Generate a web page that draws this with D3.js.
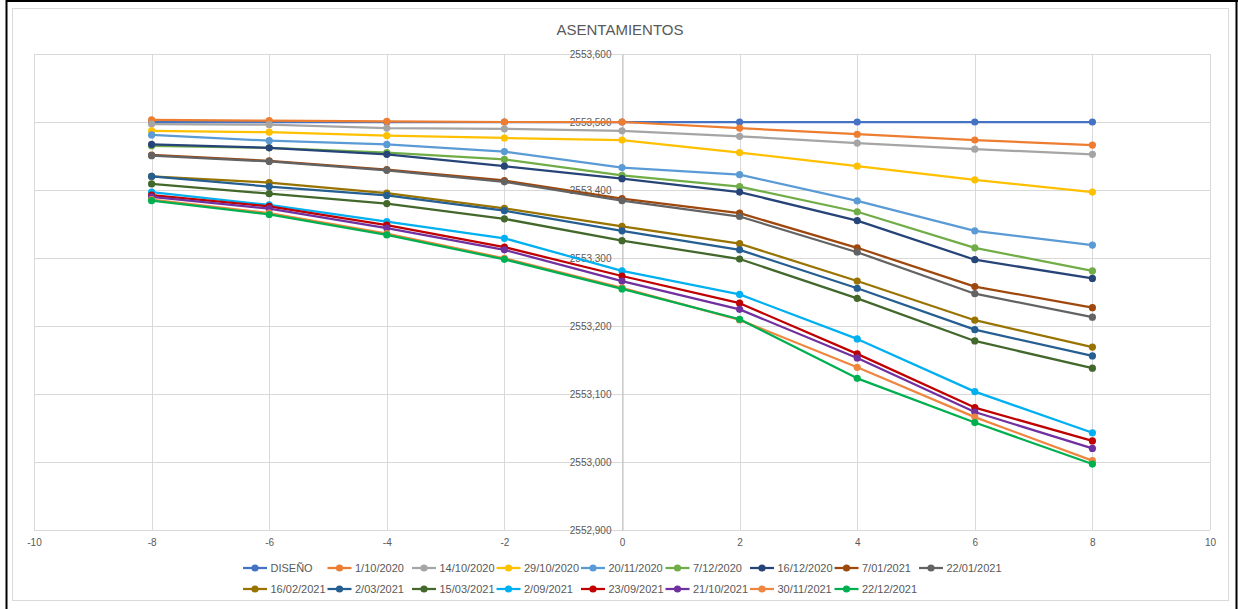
<!DOCTYPE html>
<html>
<head>
<meta charset="utf-8">
<script src="https://cdn.jsdelivr.net/npm/d3@7"></script>
<style>
  html, body { margin: 0; padding: 0; background: #fff; }
  svg { display: block; font-family: "Liberation Sans", Arial, sans-serif; }
</style>
</head>
<body>
<svg id="chart" width="1238" height="609"></svg>
<script>
// ---- Data ----
const stations = [-8, -6, -4, -2, 0, 2, 4, 6, 8];
const xTicks = [-10, -8, -6, -4, -2, 0, 2, 4, 6, 8, 10];
const yTicks = [2552.9, 2553.0, 2553.1, 2553.2, 2553.3, 2553.4, 2553.5, 2553.6];
const seriesNames = ["DISEÑO", "1/10/2020", "14/10/2020", "29/10/2020", "20/11/2020", "7/12/2020", "16/12/2020", "7/01/2021", "22/01/2021",
  "16/02/2021", "2/03/2021", "15/03/2021", "2/09/2021", "23/09/2021", "21/10/2021", "30/11/2021", "22/12/2021"];
const seriesColors = ["#4472C4", "#ED7D31", "#A5A5A5", "#FFC000", "#5B9BD5", "#70AD47", "#264478", "#9E480E", "#636363",
  "#997300", "#255E91", "#43682B", "#00B0F0", "#C00000", "#7030A0", "#EE8640", "#00B050"];

const diseno   = [2553.500, 2553.500, 2553.500, 2553.500, 2553.500, 2553.500, 2553.500, 2553.500, 2553.500];
const s01_10_20 = [2553.503, 2553.502, 2553.501, 2553.500, 2553.500, 2553.491, 2553.482, 2553.4735, 2553.466];
const s14_10_20 = [2553.497, 2553.496, 2553.491, 2553.490, 2553.487, 2553.479, 2553.469, 2553.460, 2553.4525];
const s29_10_20 = [2553.487, 2553.485, 2553.480, 2553.4765, 2553.4735, 2553.455, 2553.435, 2553.415, 2553.397];
const s20_11_20 = [2553.481, 2553.4725, 2553.467, 2553.4565, 2553.433, 2553.4225, 2553.384, 2553.340, 2553.319];
const s07_12_20 = [2553.465, 2553.462, 2553.455, 2553.445, 2553.4215, 2553.405, 2553.368, 2553.315, 2553.281];
const s16_12_20 = [2553.467, 2553.462, 2553.4525, 2553.435, 2553.4167, 2553.397, 2553.355, 2553.2975, 2553.270];
const s07_01_21 = [2553.4515, 2553.443, 2553.430, 2553.414, 2553.3873, 2553.366, 2553.315, 2553.258, 2553.227];
const s22_01_21 = [2553.4505, 2553.442, 2553.429, 2553.412, 2553.3843, 2553.361, 2553.3085, 2553.2475, 2553.213];
const s16_02_21 = [2553.420, 2553.411, 2553.3955, 2553.373, 2553.3466, 2553.321, 2553.2662, 2553.2085, 2553.169];
const s02_03_21 = [2553.420, 2553.405, 2553.392, 2553.3696, 2553.340, 2553.312, 2553.2555, 2553.1946, 2553.156];
const s15_03_21 = [2553.409, 2553.3946, 2553.380, 2553.3576, 2553.3255, 2553.2985, 2553.2407, 2553.178, 2553.138];
const s02_09_21 = [2553.397, 2553.378, 2553.3535, 2553.329, 2553.281, 2553.2465, 2553.181, 2553.1035, 2553.043];
const s23_09_21 = [2553.3926, 2553.376, 2553.3485, 2553.316, 2553.2735, 2553.2335, 2553.159, 2553.080, 2553.031];
const s21_10_21 = [2553.390, 2553.3725, 2553.344, 2553.312, 2553.266, 2553.2245, 2553.153, 2553.0735, 2553.020];
const s30_11_21 = [2553.386, 2553.366, 2553.336, 2553.2995, 2553.256, 2553.209, 2553.1393, 2553.066, 2553.002];
const s22_12_21 = [2553.3843, 2553.364, 2553.334, 2553.298, 2553.2545, 2553.2099, 2553.123, 2553.058, 2552.997];

const seriesValues = [diseno, s01_10_20, s14_10_20, s29_10_20, s20_11_20, s07_12_20, s16_12_20, s07_01_21, s22_01_21,
  s16_02_21, s02_03_21, s15_03_21, s02_09_21, s23_09_21, s21_10_21, s30_11_21, s22_12_21];

const series = seriesNames.map((name, i) => ({
  name, color: seriesColors[i],
  points: stations.map((x, j) => ({ x, y: seriesValues[i][j] }))
}));

// ---- Layout ----
const svg = d3.select("#chart");
const W = 1238, H = 609;
const plot = { left: 34, right: 1210, top: 54, bottom: 530 };

// outer frames
svg.append("rect").attr("x", 0).attr("y", 0).attr("width", W).attr("height", H).attr("fill", "#fff");
svg.append("rect").attr("x", 12.5).attr("y", 8.5).attr("width", 1216).attr("height", 592)
  .attr("fill", "#fff").attr("stroke", "#D9D9D9").attr("stroke-width", 1);
svg.append("line").attr("x1", 6).attr("x2", 1238).attr("y1", 1).attr("y2", 1).attr("stroke", "#000").attr("stroke-width", 2);
svg.append("line").attr("x1", 6.5).attr("x2", 6.5).attr("y1", 0).attr("y2", H).attr("stroke", "#000").attr("stroke-width", 2);
svg.append("line").attr("x1", 1236.5).attr("x2", 1236.5).attr("y1", 0).attr("y2", H).attr("stroke", "#000").attr("stroke-width", 2);

const x = d3.scaleLinear().domain([-10, 10]).range([plot.left, plot.right]);
const y = d3.scaleLinear().domain([2552.9, 2553.6]).range([plot.bottom, plot.top]);

const locale = d3.formatLocale({ decimal: ",", thousands: ".", grouping: [3], currency: ["", ""], minus: "-" });
const fmtY = locale.format(".3f");
const fmtX = locale.format("d");

// gridlines
const grid = svg.append("g").attr("stroke", "#D9D9D9").attr("stroke-width", 1);
grid.selectAll("line.h").data(yTicks).join("line").attr("class", "h")
  .attr("x1", plot.left).attr("x2", plot.right)
  .attr("y1", d => Math.round(y(d)) + 0.5).attr("y2", d => Math.round(y(d)) + 0.5);
grid.selectAll("line.v").data(xTicks).join("line").attr("class", "v")
  .attr("y1", plot.top).attr("y2", plot.bottom)
  .attr("x1", d => Math.round(x(d)) + 0.5).attr("x2", d => Math.round(x(d)) + 0.5);

// y axis at x = 0
const yAxis = d3.axisLeft(y).tickValues(yTicks).tickFormat(fmtY).tickSize(0).tickPadding(11);
const gy = svg.append("g").attr("transform", `translate(${Math.round(x(0)) + 0.5},0)`).call(yAxis);
gy.select(".domain").attr("stroke", "#BFBFBF");
gy.selectAll("text").attr("fill", "#595959").style("font-size", "10px").style("font-family", "'Liberation Sans', Arial, sans-serif");

// x axis labels at bottom
const xAxis = d3.axisBottom(x).tickValues(xTicks).tickFormat(fmtX).tickSize(0).tickPadding(9);
const gx = svg.append("g").attr("transform", `translate(0,${plot.bottom})`).call(xAxis);
gx.select(".domain").remove();
gx.selectAll("text").attr("fill", "#595959").style("font-size", "10px").style("font-family", "'Liberation Sans', Arial, sans-serif");

// title
svg.append("text").attr("x", 620).attr("y", 35).attr("text-anchor", "middle")
  .attr("fill", "#595959").style("font-size", "15px").text("ASENTAMIENTOS");

// lines + markers
const line = d3.line().x(d => x(d.x)).y(d => y(d.y));
const gS = svg.append("g");
series.forEach(s => {
  const g = gS.append("g");
  g.append("path").datum(s.points).attr("d", line).attr("fill", "none")
    .attr("stroke", s.color).attr("stroke-width", 2.25).attr("stroke-linejoin", "round");
  g.selectAll("circle").data(s.points).join("circle")
    .attr("cx", d => x(d.x)).attr("cy", d => y(d.y)).attr("r", 3.6).attr("fill", s.color);
});

// legend: uniform column grid
const legendX0 = 243, legendColW = 84.5;
const legendRows = [
  { y: 568, idx: [0, 1, 2, 3, 4, 5, 6, 7, 8] },
  { y: 589, idx: [9, 10, 11, 12, 13, 14, 15, 16] }
];
const lg = svg.append("g");
legendRows.forEach(row => {
  row.idx.forEach((si, k) => {
    const s = series[si];
    const x0 = legendX0 + k * legendColW;
    lg.append("line").attr("x1", x0).attr("x2", x0 + 24).attr("y1", row.y).attr("y2", row.y)
      .attr("stroke", s.color).attr("stroke-width", 2.25);
    lg.append("circle").attr("cx", x0 + 12).attr("cy", row.y).attr("r", 3.6).attr("fill", s.color);
    lg.append("text").attr("x", x0 + 27.5).attr("y", row.y).attr("dy", "0.35em")
      .attr("fill", "#595959").style("font-size", "11px").text(s.name);
  });
});
</script>
</body>
</html>
